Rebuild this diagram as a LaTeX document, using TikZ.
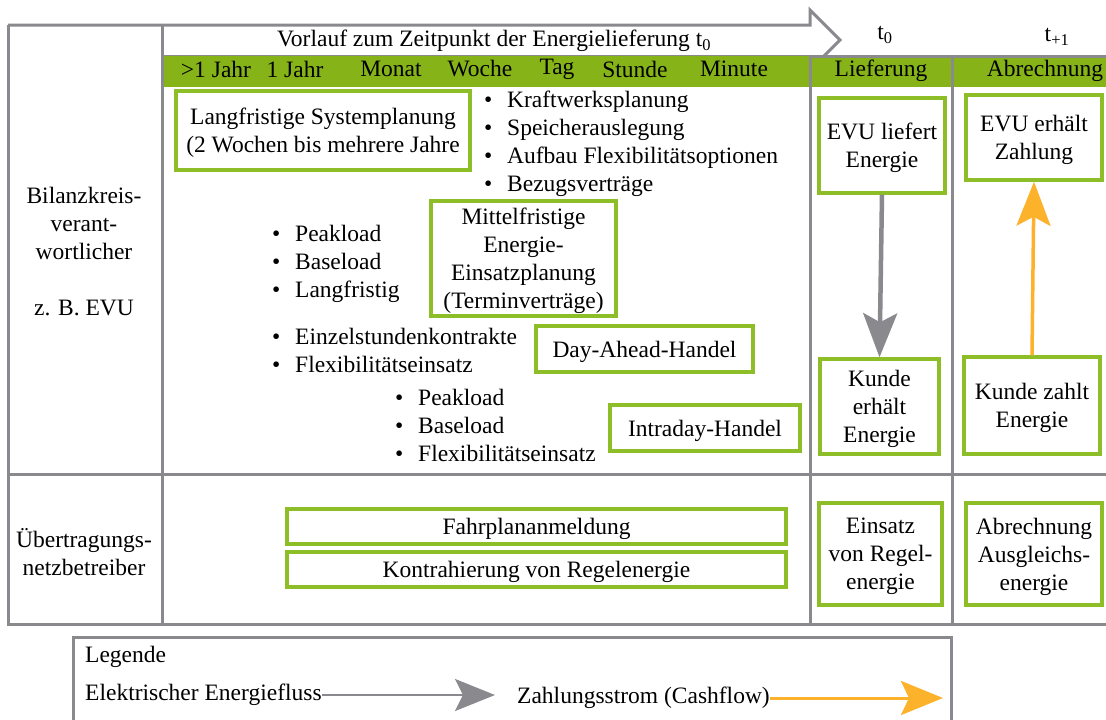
\documentclass[tikz,border=0pt]{standalone}
\usepackage{fontspec}
\setmainfont{Liberation Serif}
\usetikzlibrary{arrows.meta}
\definecolor{barg}{RGB}{134,180,24}
\definecolor{boxg}{RGB}{141,190,40}
\definecolor{lgray}{RGB}{138,138,142}
\definecolor{aorange}{RGB}{252,178,42}
\newcommand\bl[1]{\makebox[23pt][l]{\textbullet}#1}
\begin{document}
\begin{tikzpicture}[x=1pt,y=-1pt,
  every node/.style={font=\fontsize{23.5}{28}\selectfont, inner sep=0pt},
  frame/.style={draw=lgray, line width=3pt},
  gbox/.style={draw=boxg, line width=3.5pt, fill=white, align=center, inner sep=0pt, text depth=-5pt},
  blist/.style={anchor=west, align=left},
  lbl/.style={align=center},
  grayarrow/.style={draw=lgray, -{Stealth[length=44pt,width=34pt,inset=9pt]}},
  orangearrow/.style={draw=aorange, -{Stealth[length=44pt,width=34pt,inset=9pt]}}
]
\clip (0,0) rectangle (1106,720);
\fill[white] (0,0) rectangle (1106,720);
% arrow header
\draw[frame, line join=miter] (8,25) -- (810,25) -- (810,10) -- (840,40) -- (810,70);
% grid
\draw[frame] (8,25) -- (8,624) -- (1110,624);
\draw[frame] (8,474) -- (1110,474);
\draw[frame] (162,25) -- (162,624);
\draw[frame] (162,56) -- (1110,56);
\draw[frame] (810,56) -- (810,624);
\draw[frame] (952,56) -- (952,624);
% green bars
\fill[barg] (163.5,56) rectangle (809,87);
\fill[barg] (811.5,57.5) rectangle (950.5,87);
\fill[barg] (953.5,57.5) rectangle (1106,87);
% header texts
\node (vorlauf) at (494,41) {Vorlauf zum Zeitpunkt der Energielieferung t\textsubscript{0}};
\node (t0) at (885,35) {t\textsubscript{0}};
\node (t1) at (1057,37) {t\textsubscript{+1}};
\node (ty1) at (216,69) {>1 Jahr};
\node (ty2) at (295,69) {1 Jahr};
\node (tmo) at (391,69) {Monat};
\node (twe) at (480,69) {Woche};
\node (tta) at (557,69) {Tag};
\node (tst) at (635,69) {Stunde};
\node (tmi) at (734,69) {Minute};
\node (hlief) at (881,71) {Lieferung};
\node (habr) at (1045,71) {Abrechnung};
% left labels
\node[lbl] (bkv) at (84,252) {Bilanzkreis-\\verant-\\wortlicher\\[28pt]z. B. EVU};
\node[lbl] (uenb) at (84,552) {Übertragungs-\\netzbetreiber};
% boxes
\node[gbox, minimum width=294pt, minimum height=79pt] (lsp) at (323,130.5) {Langfristige Systemplanung\\(2 Wochen bis mehrere Jahre};
\node[gbox, minimum width=185pt, minimum height=115pt] (mfr) at (523.5,258.5) {Mittelfristige\\Energie-\\Einsatzplanung\\(Terminverträge)};
\node[gbox, minimum width=217pt, minimum height=46pt] (dah) at (644.5,349) {Day-Ahead-Handel};
\node[gbox, minimum width=190pt, minimum height=46pt] (idh) at (705,428) {Intraday-Handel};
\node[gbox, minimum width=126pt, minimum height=95pt] (evul) at (882,145.5) {EVU liefert\\Energie};
\node[gbox, minimum width=119pt, minimum height=95pt] (kee) at (879.5,406.5) {Kunde\\erhält\\Energie};
\node[gbox, minimum width=136pt, minimum height=85pt] (evuz) at (1034,137.5) {EVU erhält\\Zahlung};
\node[gbox, minimum width=136pt, minimum height=97pt] (kze) at (1032,405.5) {Kunde zahlt\\Energie};
\node[gbox, minimum width=499pt, minimum height=35pt] (fpa) at (536.5,526.5) {Fahrplananmeldung};
\node[gbox, minimum width=499pt, minimum height=35pt] (kre) at (536.5,569.5) {Kontrahierung von Regelenergie};
\node[gbox, minimum width=123pt, minimum height=102pt] (ere) at (880.5,554) {Einsatz\\von Regel-\\energie};
\node[gbox, minimum width=136pt, minimum height=102pt] (aae) at (1034,554) {Abrechnung\\Ausgleichs-\\energie};
% bullet lists
\node[blist] (l1) at (484,144) {\bl{Kraftwerksplanung}\\\bl{Speicherauslegung}\\\bl{Aufbau Flexibilitätsoptionen}\\\bl{Bezugsverträge}};
\node[blist] (l2) at (272,263.5) {\bl{Peakload}\\\bl{Baseload}\\\bl{Langfristig}};
\node[blist] (l3) at (272,350.5) {\bl{Einzelstundenkontrakte}\\\bl{Flexibilitätseinsatz}};
\node[blist] (l4) at (395,425) {\bl{Peakload}\\\bl{Baseload}\\\bl{Flexibilitätseinsatz}};
% flow arrows
\draw[grayarrow, line width=4.5pt] (evul.south) -- (kee.north);
\draw[orangearrow, line width=3.5pt] (kze.north) -- (evuz.south);
% legend
\draw[frame] (73,740) -- (73,637) -- (951,637) -- (951,740);
\node[anchor=west] (leg) at (85,657) {Legende};
\node[anchor=west] (lel) at (85,695) {Elektrischer Energiefluss};
\coordinate (lelend) at (495,695);
\draw[grayarrow, line width=2.5pt, -{Stealth[length=40pt,width=32pt,inset=8pt]}] (lel.east) -- (lelend);
\node[anchor=west] (lza) at (517,698) {Zahlungsstrom (Cashflow)};
\coordinate (lzaend) at (943,698);
\draw[orangearrow, line width=3pt, -{Stealth[length=42pt,width=34pt,inset=8pt]}] (lza.east) -- (lzaend);
\end{tikzpicture}
\end{document}
